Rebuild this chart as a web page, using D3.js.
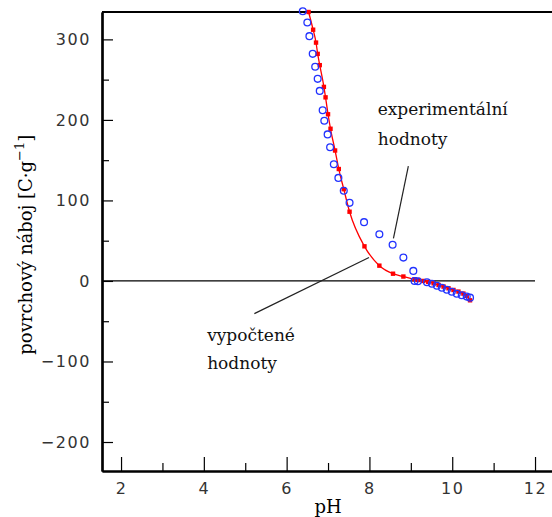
<!DOCTYPE html>
<html>
<head>
<meta charset="utf-8">
<script src="https://cdn.jsdelivr.net/npm/d3@7"></script>
<style>
  body { margin: 0; background: #fff; }
  #chart { width: 552px; height: 517px; }
</style>
</head>
<body>
<div id="chart"></div>
<script>

// calculated values (red squares + line)
let calcPH = [6.53, 6.64, 6.71, 6.75, 6.80, 6.90, 6.94, 7.00, 7.06, 7.17, 7.26, 7.38, 7.52, 7.88, 8.24, 8.57, 8.82, 9.09,
    9.18, 9.30, 9.42, 9.55, 9.67, 9.79, 9.91, 10.03, 10.15, 10.27, 10.35, 10.43];
let calcQ = [334, 312, 296, 282, 268, 241, 228, 207, 189, 162, 139, 114, 86, 43, 19, 9, 5.5, 2.1,
    1.2, 0, -1.2, -2.9, -5.0, -7.0, -9.1, -11.2, -13.2, -15.7, -18.7, -24];

// experimental values (blue circles)
let expPH = [6.39, 6.50, 6.55, 6.63, 6.69, 6.75, 6.80, 6.87, 6.91, 6.99, 7.05, 7.14, 7.25, 7.38, 7.52, 7.87, 8.24, 8.56, 8.82, 9.06,
    9.09, 9.17, 9.39, 9.51, 9.63, 9.75, 9.87, 9.99, 10.11, 10.23, 10.35, 10.43];
let expQ = [335, 321, 304, 282, 266, 251, 236, 212, 199, 182, 166, 145, 128, 112, 97, 73, 58, 45, 29, 12.5,
    0, -0.4, -1.6, -3.5, -6.0, -8.5, -11.0, -13.4, -15.9, -17.8, -19.4, -20.7];

let xMajor = [2, 4, 6, 8, 10, 12];
let xMinor = [3, 5, 7, 9, 11];
let yMajor = [-200, -100, 0, 100, 200, 300];
let yMinor = [-150, -50, 50, 150, 250];

class ChargeChart {

    constructor(_parentElement) {
        this.parentElement = _parentElement;
        this.initVis();
    }

    initVis() {
        let vis = this;

        vis.margin = {top: 12, right: 0, bottom: 46, left: 102};
        vis.width = 552 - vis.margin.left - vis.margin.right;
        vis.height = 517 - vis.margin.top - vis.margin.bottom;

        vis.svg = d3.select("#" + vis.parentElement).append("svg")
            .attr("width", 552)
            .attr("height", 517)
            .append("g")
            .attr("transform", "translate(" + vis.margin.left + "," + vis.margin.top + ")");

        vis.x = d3.scaleLinear().domain([1.54, 12.41]).range([0, vis.width]);
        vis.y = d3.scaleLinear().domain([-236, 334]).range([vis.height, 0]);

        vis.drawAxes();
        vis.drawData();
        vis.drawNotes();
    }

    drawAxes() {
        let vis = this;

        // bottom axis, ticks pointing inward
        let xg = vis.svg.append("g").attr("transform", "translate(0," + vis.height + ")");
        xg.call(d3.axisBottom(vis.x).tickValues(xMajor).tickSizeInner(-14).tickSizeOuter(0).tickPadding(12));
        xg.append("g").call(d3.axisBottom(vis.x).tickValues(xMinor).tickSizeInner(-8).tickSizeOuter(0).tickFormat(""));

        let yg = vis.svg.append("g");
        yg.call(d3.axisLeft(vis.y).tickValues(yMajor).tickSizeInner(-11).tickSizeOuter(0).tickPadding(11)
            .tickFormat(d => d3.format("d")(d).replace("-", "\u2212")));
        yg.append("g").call(d3.axisLeft(vis.y).tickValues(yMinor).tickSizeInner(-7).tickSizeOuter(0).tickFormat(""));

        vis.svg.selectAll(".domain").attr("stroke", "#000").attr("stroke-width", 2.2);
        vis.svg.selectAll(".tick line").attr("stroke", "#000").attr("stroke-width", 1.2);
        vis.svg.selectAll(".tick text")
            .attr("font-family", "DejaVu Sans")
            .attr("font-size", 16)
            .attr("letter-spacing", 1.6)
            .attr("fill", "#333");

        // top frame line
        vis.svg.append("line")
            .attr("x1", 0).attr("x2", vis.width)
            .attr("y1", 0).attr("y2", 0)
            .attr("stroke", "#000").attr("stroke-width", 2.2);

        // zero line
        vis.svg.append("line")
            .attr("x1", 0).attr("x2", vis.x(12))
            .attr("y1", vis.y(0)).attr("y2", vis.y(0))
            .attr("stroke", "#000").attr("stroke-width", 1.2);

        vis.svg.append("text")
            .attr("x", vis.x(7))
            .attr("y", vis.height + 42)
            .attr("text-anchor", "middle")
            .attr("font-family", "DejaVu Serif")
            .attr("font-size", 18)
            .text("pH");

        let yl = vis.svg.append("text")
            .attr("transform", "translate(" + (-70) + "," + vis.y(45) + ") rotate(-90)")
            .attr("text-anchor", "middle")
            .attr("font-family", "DejaVu Serif")
            .attr("font-size", 18);
        yl.append("tspan").text("povrchový náboj [C·g");
        yl.append("tspan").attr("dy", -8).attr("font-size", 13).text("\u22121");
        yl.append("tspan").attr("dy", 8).text("]");
    }

    drawData() {
        let vis = this;

        let calc = calcPH.map((p, i) => ({ph: p, q: calcQ[i]}));
        let exp = expPH.map((p, i) => ({ph: p, q: expQ[i]}));

        let line = d3.line()
            .x(d => vis.x(d.ph))
            .y(d => vis.y(d.q))
            .curve(d3.curveMonotoneX);

        vis.svg.append("path")
            .datum(calc)
            .attr("d", line)
            .attr("fill", "none")
            .attr("stroke", "#ff0000")
            .attr("stroke-width", 1.3);

        vis.svg.selectAll(".calc")
            .data(calc)
            .enter().append("rect")
            .attr("class", "calc")
            .attr("x", d => vis.x(d.ph) - 2.2)
            .attr("y", d => vis.y(d.q) - 2.2)
            .attr("width", 4.4)
            .attr("height", 4.4)
            .attr("fill", "#ff0000");

        vis.svg.selectAll(".exp")
            .data(exp)
            .enter().append("circle")
            .attr("class", "exp")
            .attr("cx", d => vis.x(d.ph))
            .attr("cy", d => vis.y(d.q))
            .attr("r", 3.4)
            .attr("fill", "none")
            .attr("stroke", "#2233ff")
            .attr("stroke-width", 1.3);
    }

    drawNotes() {
        let vis = this;

        let pointers = [
            [[8.94, 142.5], [8.58, 52.8]],
            [[7.99, 29.1], [5.22, -40.6]]
        ];
        pointers.forEach(p => {
            vis.svg.append("line")
                .attr("x1", vis.x(p[0][0])).attr("y1", vis.y(p[0][1]))
                .attr("x2", vis.x(p[1][0])).attr("y2", vis.y(p[1][1]))
                .attr("stroke", "#222").attr("stroke-width", 1.2);
        });

        let notes = [
            ["experimentální", 8.2, 205.5],
            ["hodnoty", 8.2, 169.4],
            ["vypočtené", 4.08, -74.6],
            ["hodnoty", 4.08, -109.8]
        ];
        vis.svg.selectAll(".note")
            .data(notes)
            .enter().append("text")
            .attr("class", "note")
            .attr("x", d => vis.x(d[1]))
            .attr("y", d => vis.y(d[2]))
            .attr("font-family", "DejaVu Serif")
            .attr("font-size", 17)
            .attr("fill", "#111")
            .text(d => d[0]);
    }
}

new ChargeChart("chart");
</script>
</body>
</html>
